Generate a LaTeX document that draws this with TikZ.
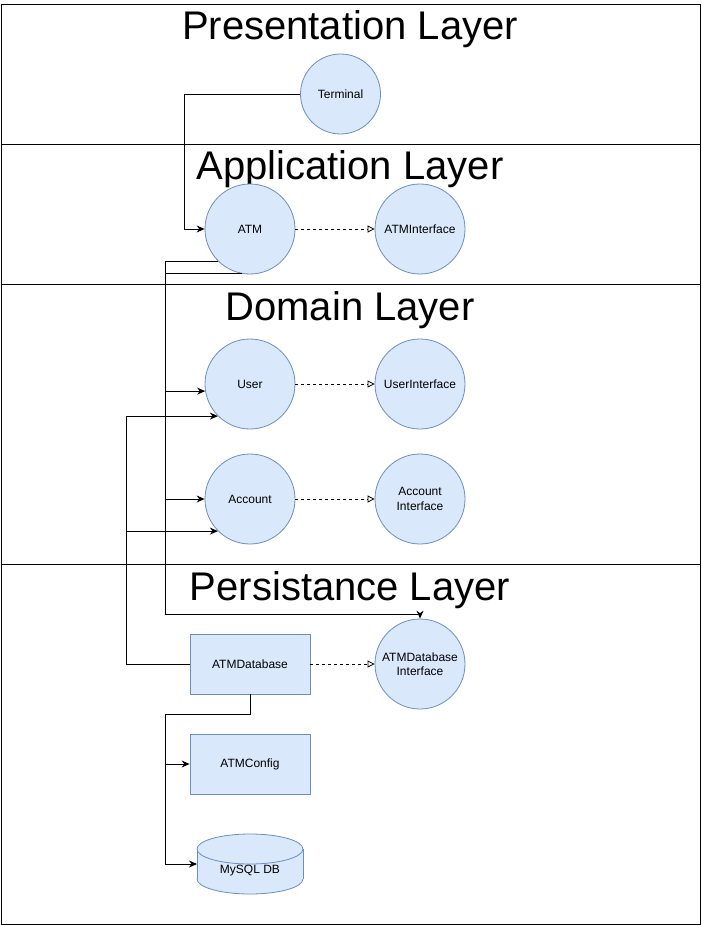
\documentclass[tikz,border=0pt]{standalone}
\usepackage{fontspec}
\setmainfont{Liberation Sans}
\usetikzlibrary{arrows.meta}
\definecolor{nodefill}{HTML}{DAE8FC}
\definecolor{nodeline}{HTML}{6C8EBF}
\begin{document}
\begin{tikzpicture}[x=1pt,y=-1pt,
  layerbox/.style={draw=black, line width=0.9pt},
  layertitle/.style={anchor=base, font=\fontsize{40}{44}\selectfont, inner sep=0pt},
  classcircle/.style={circle, draw=nodeline, fill=nodefill, line width=0.8pt, minimum size=90pt, inner sep=0pt, align=center, font=\fontsize{12}{14.5}\selectfont},
  smallcircle/.style={classcircle, minimum size=80pt},
  classrect/.style={rectangle, draw=nodeline, fill=nodefill, line width=0.8pt, minimum width=120pt, minimum height=60pt, inner sep=0pt, align=center, font=\fontsize{12}{14.5}\selectfont},
  cyltext/.style={inner sep=0pt, font=\fontsize{12}{14.5}\selectfont},
  arr/.style={draw=black, line width=0.9pt, -{Stealth[length=8pt,width=7pt]}},
  realize/.style={draw=black, line width=0.8pt, dash pattern=on 3pt off 3pt, -{Triangle[open,length=7pt,width=7pt]}}
]
\useasboundingbox (0,0) rectangle (701,925);
% layers
\draw[layerbox] (1,4) rectangle (700,144);
\draw[layerbox] (1,144) rectangle (700,284);
\draw[layerbox] (1,284) rectangle (700,564);
\draw[layerbox] (1,564) rectangle (700,924);
\node[layertitle] (tpres) at (350,40) {Presentation Layer};
\node[layertitle] (tapp) at (350,180) {Application Layer};
\node[layertitle] (tdom) at (350,320) {Domain Layer};
\node[layertitle] (tpers) at (350,600) {Persistance Layer};
% nodes
\node[smallcircle] (Terminal) at (340.5,94) {Terminal};
\node[classcircle] (ATM) at (250,229) {ATM};
\node[classcircle] (ATMI) at (420,229) {ATMInterface};
\node[classcircle] (User) at (250,384) {User};
\node[classcircle] (UserI) at (420,384) {UserInterface};
\node[classcircle] (Account) at (250,499) {Account};
\node[classcircle] (AccountI) at (420,499) {Account\\Interface};
\node[classrect] (DB) at (250,664) {ATMDatabase};
\node[classcircle] (DBI) at (420,664) {ATMDatabase\\Interface};
\node[classrect] (Config) at (250,764) {ATMConfig};
% cylinder
\filldraw[draw=nodeline, fill=nodefill, line width=0.8pt] (250,879) ellipse[x radius=53, y radius=15];
\fill[nodefill] (197,849) rectangle (303,879);
\draw[nodeline, line width=0.8pt] (197,849) -- (197,879) (303,849) -- (303,879);
\filldraw[draw=nodeline, fill=nodefill, line width=0.8pt] (250,849) ellipse[x radius=53, y radius=15];
\node[cyltext] (MySQL) at (250,871) {MySQL DB};
\coordinate (MySQLin) at (197,864);
% buses
\coordinate (busA) at (165,0);
\coordinate (busB) at (126,0);
\coordinate (busT) at (184.5,0);
\coordinate (turn) at (165,614);
\coordinate (dbdown) at (250,714);
% connectors
\draw[arr] (Terminal.west) -- (Terminal.west -| busT) -- (busT |- ATM.west) -- (ATM.west);
\draw[realize] (ATM.east) -- (ATMI.west);
\draw[realize] (User.east) -- (UserI.west);
\draw[realize] (Account.east) -- (AccountI.west);
\draw[realize] (DB.east) -- (DBI.west);
\draw[arr] (ATM.225) -- (ATM.225 -| busA) -- (busA |- User.189) -- (User.189);
\draw[arr] (ATM.260) -- (ATM.260 -| busA) -- (busA |- Account.west) -- (Account.west);
\draw[arr] (ATM.260) -- (ATM.260 -| busA) -- (turn) -- (turn -| DBI.north) -- (DBI.north);
\draw[arr] (DB.west) -- (DB.west -| busB) -- (busB |- User.225) -- (User.225);
\draw[arr] (DB.west) -- (DB.west -| busB) -- (busB |- Account.225) -- (Account.225);
\draw[arr] (DB.south) -- (dbdown) -- (dbdown -| busA) -- (busA |- Config.west) -- (Config.west);
\draw[arr] (DB.south) -- (dbdown) -- (dbdown -| busA) -- (busA |- MySQLin) -- (MySQLin);
\end{tikzpicture}
\end{document}
